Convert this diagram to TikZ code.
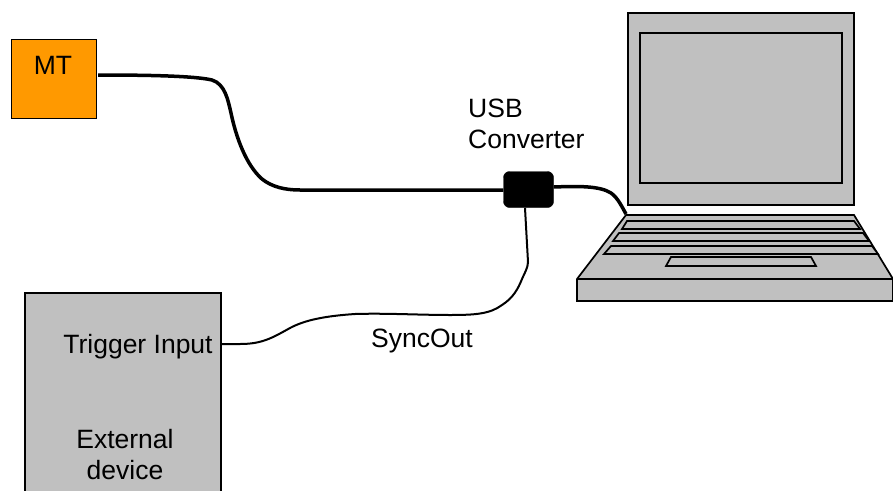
\documentclass[tikz,border=0pt]{standalone}
\usepackage{fontspec}
\setmainfont{Liberation Sans}
\definecolor{grayfill}{RGB}{192,192,192}
\definecolor{mtorange}{RGB}{255,153,0}
\tikzset{
  part/.style={draw=black,line width=1.7pt,fill=grayfill,line join=miter},
  lbl/.style={font=\fontsize{26.5}{31}\selectfont,align=center,text=black,inner sep=0pt},
  thick cable/.style={draw=black,line width=3.5pt},
  thin cable/.style={draw=black,line width=2pt},
}
\begin{document}
\begin{tikzpicture}[x=1pt,y=-1pt]
\useasboundingbox (0,0) rectangle (893,490);
\begin{scope}
\clip (0,0) rectangle (893,490);
% laptop
\draw[part] (628,13) rectangle (854,205);
\draw[part] (640,33) rectangle (842,183);
\draw[part] (626,215) -- (854,215) -- (893,279) -- (893,301) -- (577,301) -- (577,279) -- cycle;
\draw[part] (577,279) -- (893,279);
\draw[part] (627,221) -- (854,221) -- (860,229) -- (622,229) -- cycle;
\draw[part] (619,233) -- (863,233) -- (869,241) -- (613,241) -- cycle;
\draw[part] (611,246) -- (872,246) -- (878,254) -- (604,254) -- cycle;
\draw[part] (671,257) -- (811,257) -- (816,266) -- (666,266) -- cycle;
\coordinate (lap) at (626,214);
% boxes
\node[draw=black,line width=1.7pt,fill=mtorange,minimum width=85pt,minimum height=79pt,inner sep=0pt,anchor=north west] (mt) at (10.5,38.5) {};
\node[lbl] (mtl) at (53,65) {MT};
\node[fill=black,draw=black,rounded corners=6pt,minimum width=50pt,minimum height=36pt,inner sep=0pt] (conv) at (528.5,189.5) {};
\node[part,minimum width=196pt,minimum height=240pt,inner sep=0pt,anchor=north west] (ext) at (24,292) {};
\node[lbl] (trig) at (138,347) {Trigger Input};
\node[lbl] (extl) at (125,455) {External\\device};
\node[lbl,anchor=west,align=left] (usb) at (468,123.5) {USB\\Converter};
\node[lbl] (sync) at (422,341) {SyncOut};
% cables
\draw[thick cable] (98,75) .. controls (150,75) and (195,76) .. (212,80)
  .. controls (225,84) and (228,100) .. (231,113)
  .. controls (236,137) and (246,165) .. (262,179)
  .. controls (272,187) and (285,190) .. (300,190)
  -- (conv.west|-0,190);
\draw[thick cable] (conv.east|-0,187) .. controls (580,186) and (600,186) .. (611,193)
  .. controls (618,198) and (622,207) .. (lap);
\draw[thin cable] (525,208) -- (528,262) .. controls (528,268) and (524,274) .. (522,279)
  .. controls (518,289) and (513,298) .. (502,305)
  .. controls (490,314) and (475,315) .. (450,315)
  .. controls (420,315) and (385,313) .. (355,314)
  .. controls (325,316) and (305,320) .. (290,328)
  .. controls (272,338) and (262,344) .. (240,344)
  -- (ext.east|-0,344);
\end{scope}
\end{tikzpicture}
\end{document}
